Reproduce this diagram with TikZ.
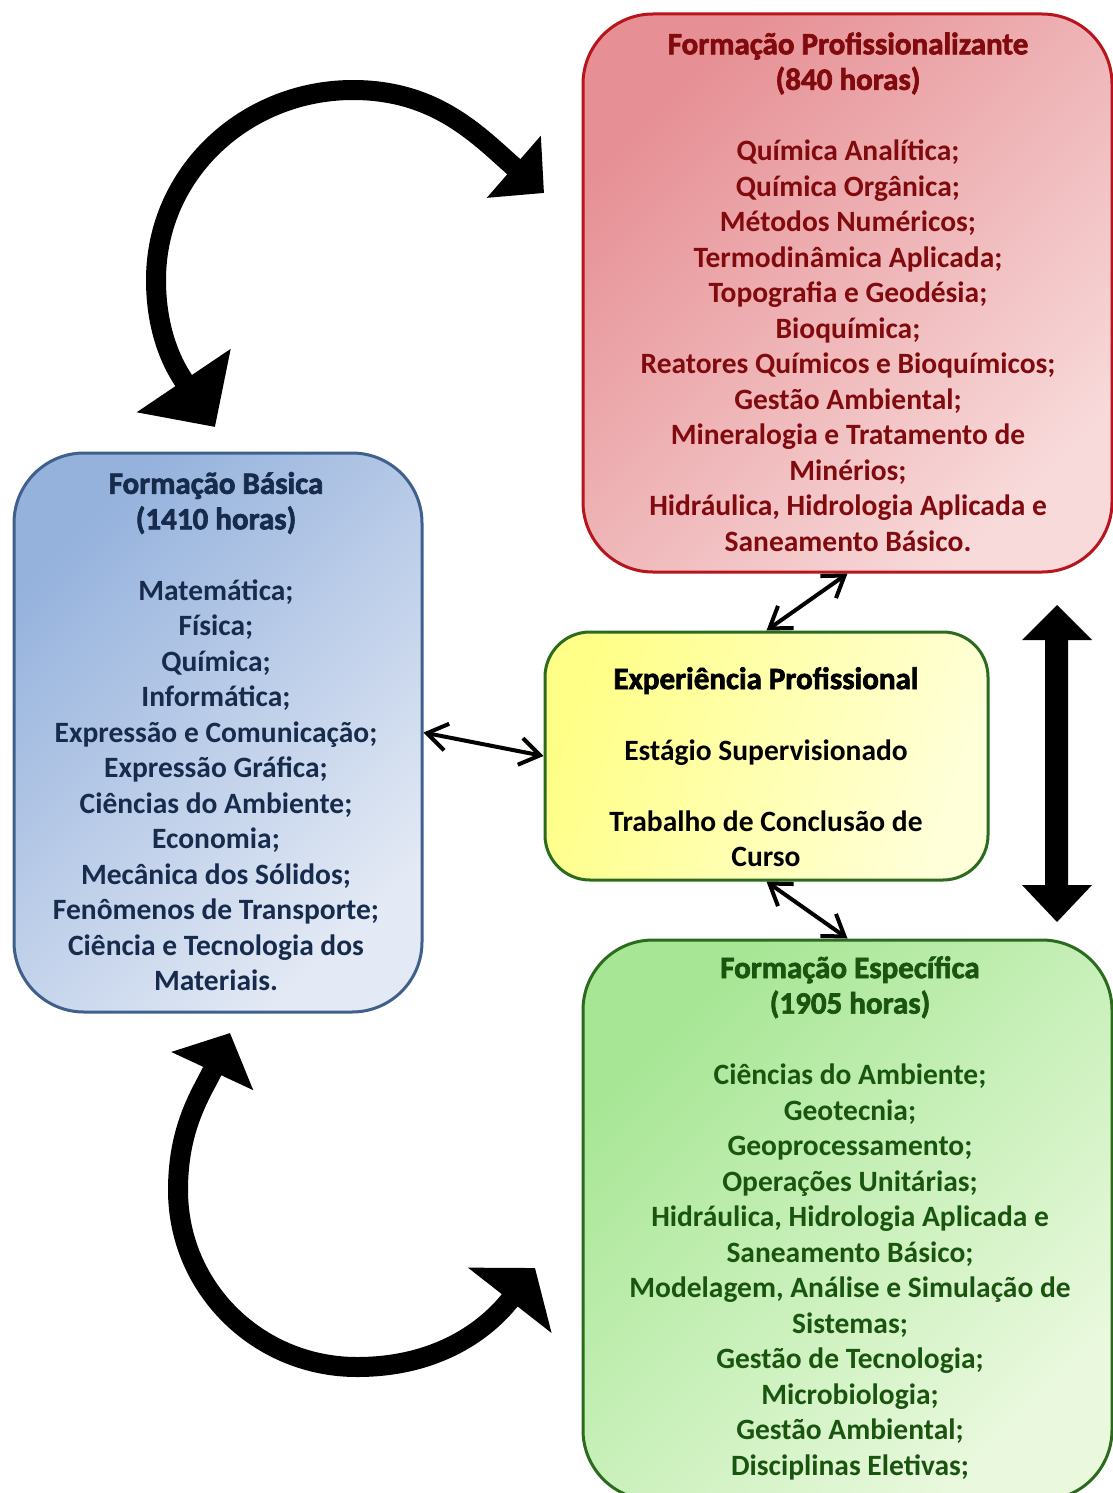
\documentclass[tikz,border=0pt]{standalone}
\usepackage{fontspec}
\setmainfont{Carlito}
\newfontfamily\hfont{Carlito}[BoldFeatures={FakeBold=2.2}]
\usetikzlibrary{arrows.meta}
\definecolor{redA}{HTML}{E68F94}
\definecolor{redB}{HTML}{F8DADA}
\definecolor{redD}{HTML}{B8141C}
\definecolor{redT}{HTML}{800A0E}
\definecolor{bluA}{HTML}{95B2DD}
\definecolor{bluB}{HTML}{E4EAF5}
\definecolor{bluD}{HTML}{40608C}
\definecolor{bluT}{HTML}{172B4D}
\definecolor{yelA}{HTML}{FFFF88}
\definecolor{yelB}{HTML}{FFFFDA}
\definecolor{grnA}{HTML}{A6E694}
\definecolor{grnB}{HTML}{EAF9DE}
\definecolor{grnD}{HTML}{2B6B1E}
\definecolor{grnT}{HTML}{1A5510}
\tikzset{
  box/.style={rectangle, rounded corners=70pt, line width=3pt, inner sep=0pt},
  redbox/.style={box, draw=redD, top color=redA, bottom color=redB, shading angle=45},
  blubox/.style={box, draw=bluD, top color=bluA, bottom color=bluB, shading angle=45},
  yelbox/.style={box, rounded corners=45pt, draw=grnD, top color=yelA, bottom color=yelB, shading angle=70},
  grnbox/.style={box, draw=grnD, top color=grnA, bottom color=grnB, shading angle=45},
  txt/.style={align=center, inner sep=0pt, font=\bfseries\fontsize{29.5}{35.5}\selectfont},
  thinarrow/.style={line width=4pt, {Straight Barb[length=20pt,width=27pt]}-{Straight Barb[length=20pt,width=27pt]}},
  bigcurve/.style={line width=20pt}
}
\newcommand{\hd}[1]{{\hfont\bfseries\fontsize{31}{35.5}\selectfont #1}}
\begin{document}
\begin{tikzpicture}[x=1pt,y=1pt]
\useasboundingbox (0,0) rectangle (1112,-1493);
\fill[white] (0,0) rectangle (1112,-1493);
% boxes
\node[redbox, minimum width=529pt, minimum height=558pt] (red) at (847.5,-293) {};
\node[blubox, minimum width=408pt, minimum height=559pt] (blue) at (218,-732.5) {};
\node[yelbox, minimum width=443pt, minimum height=248pt] (yellow) at (766.5,-756) {};
\node[grnbox, minimum width=529pt, minimum height=560pt] (green) at (847.5,-1220) {};
% texts
\node[txt, text=redT] (redtxt) at (848,-292) {\hd{Formação Profissionalizante}\\ \hd{(840 horas)}\\[35.5pt]
Química Analítica;\\ Química Orgânica;\\ Métodos Numéricos;\\ Termodinâmica Aplicada;\\
Topografia e Geodésia;\\ Bioquímica;\\ Reatores Químicos e Bioquímicos;\\ Gestão Ambiental;\\
Mineralogia e Tratamento de\\ Minérios;\\ Hidráulica, Hidrologia Aplicada e\\ Saneamento Básico.};
\node[txt, text=bluT] (bluetxt) at (216,-731.5) {\hd{Formação Básica}\\ \hd{(1410 horas)}\\[35.5pt]
Matemática;\\ Física;\\ Química;\\ Informática;\\ Expressão e Comunicação;\\ Expressão Gráfica;\\
Ciências do Ambiente;\\ Economia;\\ Mecânica dos Sólidos;\\ Fenômenos de Transporte;\\
Ciência e Tecnologia dos\\ Materiais.};
\node[txt, text=black] (yeltxt) at (766,-767) {\hd{Experiência Profissional}\\[35.5pt]
Estágio Supervisionado\\[35.5pt] Trabalho de Conclusão de\\ Curso};
\node[txt, text=grnT] (grntxt) at (850,-1218) {\hd{Formação Específica}\\ \hd{(1905 horas)}\\[35.5pt]
Ciências do Ambiente;\\ Geotecnia;\\ Geoprocessamento;\\ Operações Unitárias;\\
Hidráulica, Hidrologia Aplicada e\\ Saneamento Básico;\\ Modelagem, Análise e Simulação de\\
Sistemas;\\ Gestão de Tecnologia;\\ Microbiologia;\\ Gestão Ambiental;\\ Disciplinas Eletivas;};
% thin double arrows
\draw[thinarrow] (blue.east) -- (yellow.west);
\draw[thinarrow] (red.south) -- (yellow.north);
\draw[thinarrow] (yellow.south) -- (green.north);
% thick vertical double arrow
\fill[black] (1057,-605) -- (1092,-640) -- (1068,-640) -- (1068,-885) -- (1092,-885) -- (1057,-922)
  -- (1022,-885) -- (1045,-885) -- (1045,-640) -- (1022,-640) -- cycle;
% curved arrows
\coordinate (ta) at (215,-427);
\coordinate (tl) at (156,-280);
\coordinate (tt) at (353,-90);
\coordinate (tb) at (544,-193);
\draw[bigcurve, {Triangle[length=56pt,width=110pt]}-{Triangle[length=40pt,width=80pt]}]
  (ta) to[out=124,in=-90] (tl) to[out=90,in=180] (tt) to[out=0,in=139] (tb);
\coordinate (ba) at (230,-1033);
\coordinate (bl) at (178,-1190);
\coordinate (bb) at (357,-1367);
\coordinate (be) at (535,-1268);
\draw[bigcurve, {Triangle[length=42pt,width=88pt]}-{Triangle[length=41pt,width=104pt]}]
  (ba) to[out=245,in=90] (bl) to[out=-90,in=180] (bb) to[out=0,in=232] (be);
\end{tikzpicture}
\end{document}
